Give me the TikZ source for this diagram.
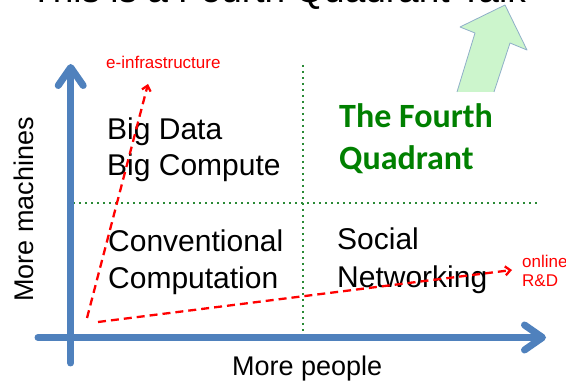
\documentclass[tikz,border=0pt]{standalone}
\usepackage{fontspec}
\setmainfont{Liberation Sans}
\newfontfamily\calibrifont{Carlito}
\usetikzlibrary{arrows.meta}
\definecolor{AxBlue}{HTML}{4F81BD}
\definecolor{DotGreen}{HTML}{2A8A36}
\definecolor{QGreen}{HTML}{008000}
\definecolor{ArFill}{HTML}{CCF5CC}
\definecolor{ArEdge}{HTML}{8FAFC8}
\tikzset{
    axis/.style = {line width=7pt, draw=AxBlue, line cap=round,
        -{Straight Barb[length=18pt, width=25pt, line cap=round, line join=round]}},
    divider/.style = {draw=DotGreen, line width=2.2pt, dash pattern=on 2pt off 4pt},
    trend/.style = {draw=red, line width=2.3pt, dash pattern=on 8pt off 5pt,
        -{Straight Barb[length=5pt, width=9pt]}},
    quad/.style = {anchor=base west, inner sep=0pt, font=\fontsize{30}{36}\selectfont},
    axlabel/.style = {anchor=base west, inner sep=0pt, font=\fontsize{27}{32}\selectfont},
    small/.style = {anchor=base west, inner sep=0pt, text=red, font=\fontsize{17}{20}\selectfont}
}
\begin{document}
\begin{tikzpicture}[x=1pt,y=-1pt]
        \useasboundingbox (0,0) rectangle (566,385);
        \clip (0,0) rectangle (566,385);
        % title, cut at the top
        \node[anchor=base west, inner sep=0pt, font=\fontsize{37}{44}\selectfont] (title) at (30,2.5) {This is a Fourth Quadrant Talk};
        % big green arrow
        \fill[ArFill] (457,92) -- (475,33) -- (460,27) -- (505,5) -- (527,50) -- (510,43) -- (494,92) -- cycle;
        \draw[ArEdge, line width=0.8pt, line join=round] (457,92) -- (475,33) -- (460,27) -- (505,5) -- (527,50) -- (510,43) -- (494,92);
        % quadrant dividers
        \coordinate (hdivL) at (73,203);
        \coordinate (hdivR) at (538,203);
        \coordinate (vdivT) at (303,65);
        \coordinate (vdivB) at (303,332);
        \draw[divider] (hdivL) -- (hdivR);
        \draw[divider] (vdivT) -- (vdivB);
        % axes
        \coordinate (ybot) at (70.7,363);
        \coordinate (ytop) at (70.7,64);
        \coordinate (xleft) at (38,337.5);
        \coordinate (xright) at (546,337.5);
        \draw[axis] (ybot) -- (ytop);
        \draw[axis] (xleft) -- (xright);
        \node[axlabel] (people) at (232,376) {More people};
        \node[axlabel, rotate=90] (machines) at (33,302) {More machines};
        % quadrant labels
        \node[quad] (bigA) at (107,140) {Big Data};
        \node[quad] (bigB) at (107,176) {Big Compute};
        \node[quad] (convA) at (108,252) {Conventional};
        \node[quad] (convB) at (108,289) {Computation};
        \node[quad] (socA) at (337,250) {Social};
        \node[quad] (socB) at (337,288) {Networking};
        \node[anchor=base west, inner sep=0pt, text=QGreen, font=\calibrifont\bfseries\fontsize{34}{41}\selectfont] (fourA) at (339,128) {The Fourth};
        \node[anchor=base west, inner sep=0pt, text=QGreen, font=\calibrifont\bfseries\fontsize{34}{41}\selectfont] (fourB) at (339,170) {Quadrant};
        % trends
        \coordinate (infra0) at (87,318);
        \coordinate (infra1) at (148,84);
        \coordinate (rd0) at (98,322);
        \coordinate (rd1) at (512,270);
        \draw[trend] (infra0) -- (infra1);
        \draw[trend] (rd0) -- (rd1);
        \node[small] (infra) at (106,69) {e-infrastructure};
        \node[small] (online) at (522,268) {online};
        \node[small] (rnd) at (522,287) {R\&D};
\end{tikzpicture}
\end{document}
